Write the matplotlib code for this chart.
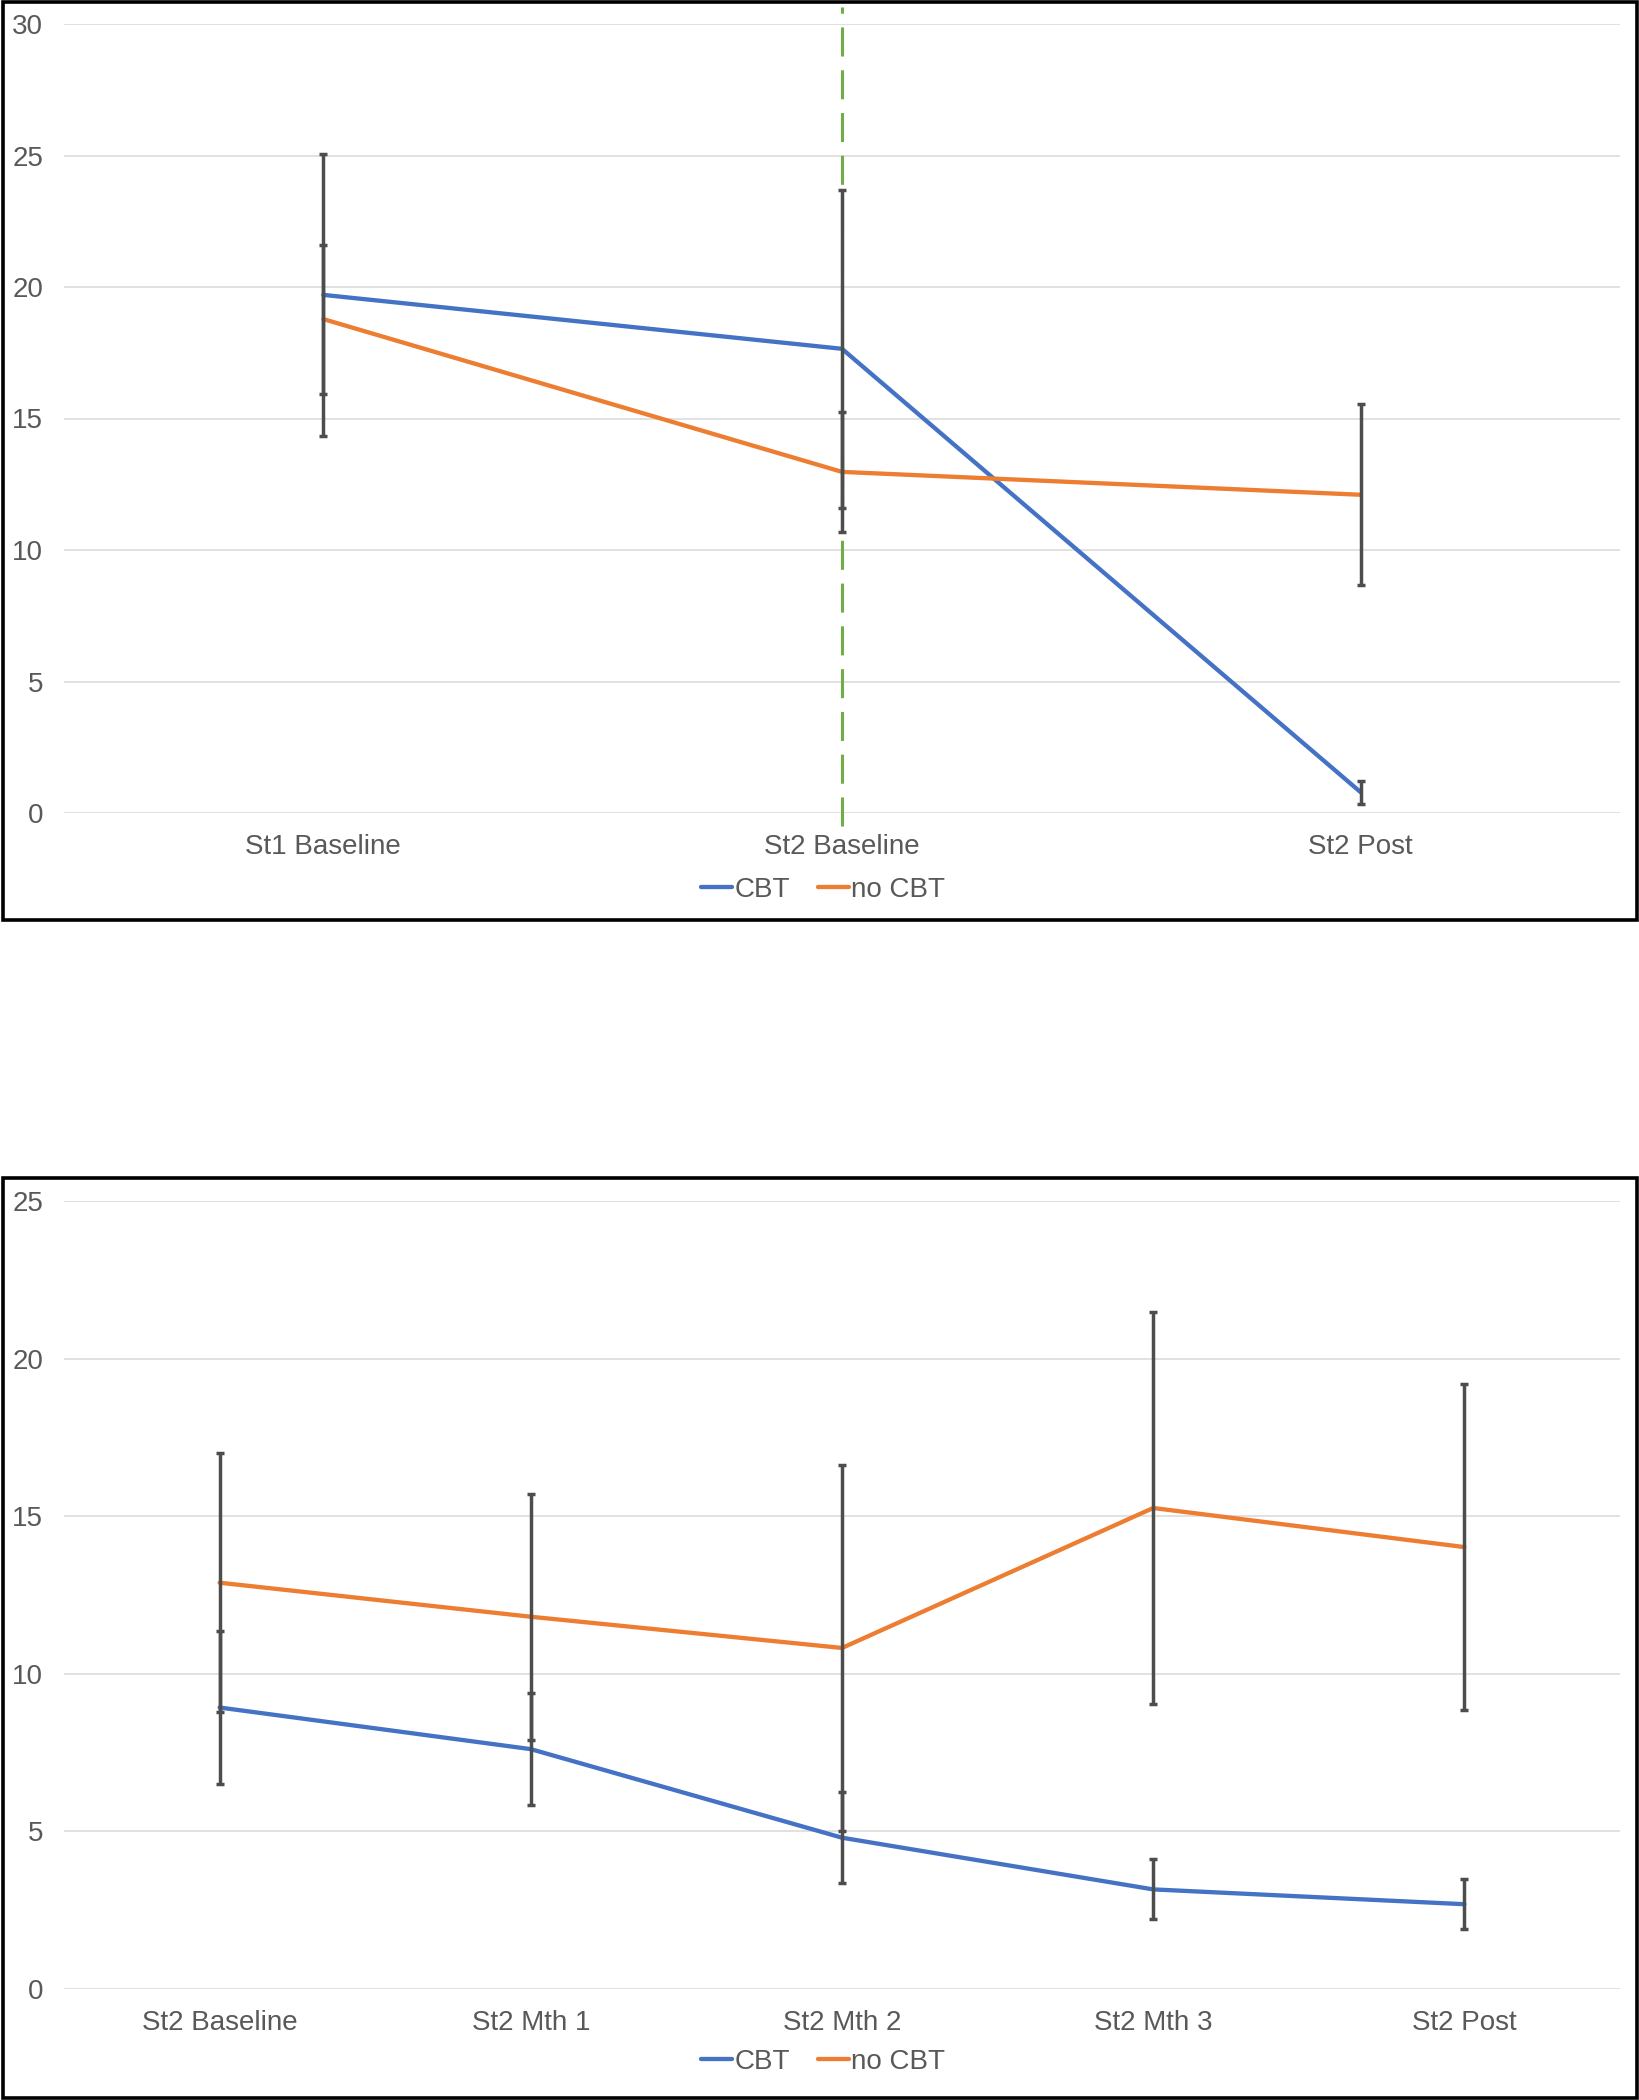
import matplotlib
matplotlib.use("Agg")
import matplotlib.pyplot as plt
from matplotlib.patches import Rectangle

plt.rcParams['font.family'] = ['Liberation Sans', 'DejaVu Sans']

# ---------------- data ----------------
top_categories = ["St1 Baseline", "St2 Baseline", "St2 Post"]
top_cbt = [19.7, 17.65, 0.79]
top_cbt_err = [5.37, 6.04, 0.43]
top_nocbt = [18.78, 12.97, 12.1]
top_nocbt_err = [2.83, 2.27, 3.44]
top_yticks = [0, 5, 10, 15, 20, 25, 30]
top_marker_category = 1  # green dashed line at "St2 Baseline"

bot_categories = ["St2 Baseline", "St2 Mth 1", "St2 Mth 2", "St2 Mth 3", "St2 Post"]
bot_cbt = [8.93, 7.61, 4.80, 3.16, 2.69]
bot_cbt_err = [2.42, 1.78, 1.45, 0.95, 0.80]
bot_nocbt = [12.89, 11.81, 10.82, 15.26, 14.02]
bot_nocbt_err = [4.11, 3.90, 5.81, 6.21, 5.18]
bot_yticks = [0, 5, 10, 15, 20, 25]

series_names = ["CBT", "no CBT"]

# ---------------- style ----------------
BLUE = "#4472C4"
ORANGE = "#ED7D31"
GREEN = "#70AD47"
ERR = "#4D4D4D"
GRID = "#D9D9D9"
TXT = "#595959"
FS = 20

W, H = 1640, 2100
fig = plt.figure(figsize=(W / 100, H / 100), dpi=100)


def frac_box(x0, y0, x1, y1):
    # pixel box (top-left origin) -> figure fraction [l, b, w, h]
    return [x0 / W, 1 - y1 / H, (x1 - x0) / W, (y1 - y0) / H]


def draw_panel(ax, cats, cbt, cbt_err, nocbt, nocbt_err, yticks, legend_y):
    x = list(range(len(cats)))
    ax.plot(x, cbt, color=BLUE, lw=3.1, solid_capstyle='round', zorder=3, label=series_names[0])
    ax.plot(x, nocbt, color=ORANGE, lw=3.1, solid_capstyle='round', zorder=3, label=series_names[1])
    ax.errorbar(x, cbt, yerr=cbt_err, fmt='none', ecolor=ERR, elinewidth=2.5,
                capsize=3, capthick=2.5, zorder=4)
    ax.errorbar(x, nocbt, yerr=nocbt_err, fmt='none', ecolor=ERR, elinewidth=2.5,
                capsize=3, capthick=2.5, zorder=4)
    ax.set_xlim(-0.5, len(cats) - 0.5)
    ax.set_ylim(yticks[0], yticks[-1])
    ax.set_yticks(yticks)
    ax.set_xticks(x)
    ax.set_xticklabels(cats)
    ax.yaxis.grid(True, color=GRID, lw=1.1, zorder=0)
    ax.set_axisbelow(True)
    for s in ax.spines.values():
        s.set_visible(False)
    ax.tick_params(axis='both', length=0, labelsize=FS, labelcolor=TXT)
    ax.tick_params(axis='y', pad=15)
    ax.tick_params(axis='x', pad=15)
    leg = ax.legend(loc='center', bbox_to_anchor=(0.488, legend_y), ncol=2, frameon=False,
                    fontsize=FS, handlelength=1.1, handletextpad=0.1, columnspacing=1.0,
                    borderaxespad=0)
    for t in leg.get_texts():
        t.set_color(TXT)
    return ax


# top panel
ax1 = fig.add_axes(frac_box(64, 24, 1620, 813))
draw_panel(ax1, top_categories, top_cbt, top_cbt_err, top_nocbt, top_nocbt_err,
           top_yticks, -0.0976)
ax1.plot([top_marker_category, top_marker_category], [-0.5, 30.65], color=GREEN, lw=2.2,
         linestyle=(0, (9.5, 4.5)), clip_on=False, zorder=2)

# bottom panel
ax2 = fig.add_axes(frac_box(64, 1201, 1620, 1989))
draw_panel(ax2, bot_categories, bot_cbt, bot_cbt_err, bot_nocbt, bot_nocbt_err,
           bot_yticks, -0.0926)

# outer frames
for (x0, y0, x1, y1) in [(3, 2, 1637, 920), (3, 1178, 1637, 2098)]:
    l, b, w, h = frac_box(x0, y0, x1, y1)
    fig.patches.append(Rectangle((l, b), w, h, transform=fig.transFigure, fill=False,
                                 edgecolor='black', lw=2.6, zorder=10))

fig.savefig("out.png", dpi=100, facecolor='white')
